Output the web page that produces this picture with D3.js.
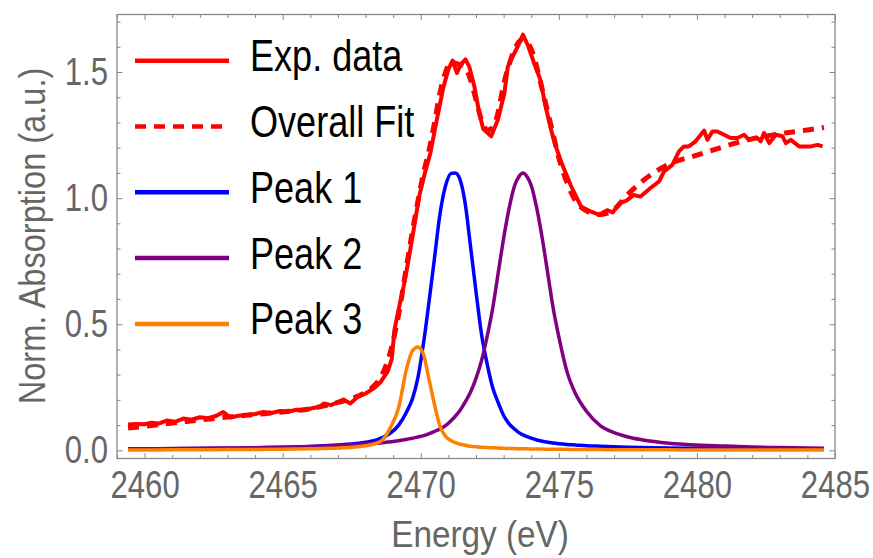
<!DOCTYPE html>
<html>
<head>
<meta charset="utf-8">
<script src="https://cdn.jsdelivr.net/npm/d3@7"></script>
<style>
body { margin: 0; background: #fff; }
.tick line { stroke: #888; stroke-width: 1; }
.tick text { fill: #666; }
</style>
</head>
<body>
<div class="chart-container"></div>
<script>
// Experimental spectrum
var expEnergy = [
  2459.4, 2459.7, 2460.0, 2460.25, 2460.5, 2460.8, 2461.1, 2461.4, 2461.7, 2462.0,
  2462.3, 2462.6, 2462.85, 2463.1, 2463.4, 2463.7, 2464.0, 2464.3, 2464.6, 2464.9,
  2465.2, 2465.5, 2465.8, 2466.1, 2466.35, 2466.5, 2466.75, 2467.0, 2467.2, 2467.45,
  2467.75, 2468.0, 2468.3, 2468.55, 2468.8, 2468.95, 2469.05, 2469.2, 2469.38, 2469.55,
  2469.75, 2469.95, 2470.15, 2470.35, 2470.58, 2470.82, 2471.0, 2471.15, 2471.31, 2471.45,
  2471.62, 2471.76, 2471.94, 2472.12, 2472.26, 2472.55, 2472.79, 2473.03, 2473.15, 2473.39,
  2473.55, 2473.7, 2473.9, 2474.1, 2474.33, 2474.52, 2474.7, 2474.85, 2475.1, 2475.45,
  2475.8, 2476.15, 2476.45, 2476.75, 2476.95, 2477.2, 2477.45, 2477.7, 2477.96, 2478.32,
  2478.63, 2478.81, 2479.11, 2479.35, 2479.53, 2479.71, 2479.95, 2480.14, 2480.26, 2480.38,
  2480.56, 2480.74, 2481.0, 2481.22, 2481.47, 2481.71, 2481.89, 2482.05, 2482.19, 2482.31,
  2482.43, 2482.62, 2482.86, 2483.1, 2483.22, 2483.4, 2483.7, 2484.13, 2484.37, 2484.55
];
var expAbs = [
  0.102, 0.104, 0.103, 0.109, 0.106, 0.118, 0.113, 0.126, 0.121, 0.131,
  0.127, 0.137, 0.152, 0.130, 0.137, 0.140, 0.144, 0.152, 0.148, 0.156,
  0.153, 0.161, 0.159, 0.168, 0.173, 0.186, 0.179, 0.191, 0.201, 0.186,
  0.215, 0.225, 0.246, 0.271, 0.312, 0.362, 0.480, 0.560, 0.650, 0.750,
  0.880, 1.010, 1.100, 1.180, 1.310, 1.440, 1.510, 1.545, 1.496, 1.530,
  1.550, 1.520, 1.443, 1.337, 1.275, 1.245, 1.310, 1.417, 1.520, 1.575,
  1.610, 1.648, 1.600, 1.536, 1.470, 1.363, 1.280, 1.218, 1.139, 1.046,
  0.967, 0.947, 0.934, 0.952, 0.943, 0.980, 0.990, 1.012, 1.006, 1.040,
  1.066, 1.106, 1.132, 1.185, 1.205, 1.205, 1.225, 1.251, 1.268, 1.231,
  1.264, 1.264, 1.250, 1.238, 1.238, 1.251, 1.231, 1.236, 1.238, 1.225,
  1.258, 1.218, 1.251, 1.245, 1.218, 1.231, 1.205, 1.205, 1.211, 1.205
];

// Fit curves, all on the same energy grid
var fitEnergy = [
  2459.4, 2460, 2461, 2462, 2463, 2464, 2465, 2466, 2467, 2467.5,
  2468, 2468.3, 2468.6, 2468.9, 2469.2, 2469.5, 2469.7, 2469.9, 2470.1, 2470.3,
  2470.5, 2470.7, 2470.9, 2471.1, 2471.25, 2471.4, 2471.6, 2471.8, 2472.0, 2472.2,
  2472.4, 2472.6, 2472.8, 2473.0, 2473.2, 2473.4, 2473.55, 2473.7, 2473.85, 2474.0,
  2474.2, 2474.4, 2474.6, 2474.8, 2475.0, 2475.3, 2475.6, 2476.0, 2476.5, 2477,
  2477.5, 2478, 2479, 2480, 2481, 2482, 2483, 2484, 2484.6
];
var overallFit = [
  0.088, 0.095, 0.108, 0.120, 0.132, 0.142, 0.152, 0.165, 0.190, 0.205,
  0.230, 0.255, 0.300, 0.390, 0.540, 0.740, 0.870, 0.990, 1.100, 1.190,
  1.300, 1.420, 1.500, 1.540, 1.535, 1.530, 1.520, 1.470, 1.390, 1.310,
  1.270, 1.280, 1.340, 1.450, 1.530, 1.590, 1.620, 1.630, 1.620, 1.590,
  1.520, 1.430, 1.340, 1.250, 1.160, 1.060, 0.990, 0.950, 0.935, 0.955,
  1.015, 1.065, 1.135, 1.170, 1.205, 1.235, 1.255, 1.270, 1.280
];
var peak1 = [
  0.005, 0.005, 0.006, 0.007, 0.008, 0.010, 0.012, 0.015, 0.021, 0.025,
  0.032, 0.038, 0.050, 0.068, 0.100, 0.155, 0.205, 0.290, 0.425, 0.590,
  0.765, 0.940, 1.050, 1.098, 1.100, 1.080, 0.985, 0.810, 0.630, 0.460,
  0.345, 0.250, 0.190, 0.138, 0.105, 0.084, 0.070, 0.061, 0.054, 0.048,
  0.041, 0.036, 0.032, 0.029, 0.026, 0.023, 0.021, 0.018, 0.016, 0.014,
  0.012, 0.011, 0.009, 0.008, 0.007, 0.006, 0.005, 0.005, 0.004
];
var peak2 = [
  0.006, 0.006, 0.007, 0.008, 0.009, 0.010, 0.012, 0.015, 0.019, 0.022,
  0.025, 0.027, 0.030, 0.034, 0.038, 0.044, 0.048, 0.053, 0.058, 0.066,
  0.075, 0.085, 0.098, 0.118, 0.135, 0.155, 0.190, 0.230, 0.285, 0.355,
  0.450, 0.560, 0.700, 0.840, 0.960, 1.050, 1.085, 1.100, 1.085, 1.050,
  0.960, 0.840, 0.700, 0.560, 0.450, 0.310, 0.225, 0.155, 0.098, 0.070,
  0.053, 0.042, 0.028, 0.021, 0.017, 0.013, 0.011, 0.009, 0.008
];
var peak3 = [
  0.001, 0.001, 0.002, 0.002, 0.003, 0.003, 0.004, 0.006, 0.009, 0.012,
  0.018, 0.025, 0.040, 0.090, 0.170, 0.330, 0.395, 0.410, 0.380, 0.280,
  0.180, 0.094, 0.055, 0.038, 0.030, 0.025, 0.020, 0.016, 0.014, 0.012,
  0.011, 0.010, 0.009, 0.008, 0.007, 0.007, 0.006, 0.006, 0.006, 0.005,
  0.005, 0.005, 0.004, 0.004, 0.004, 0.004, 0.003, 0.003, 0.003, 0.002,
  0.002, 0.002, 0.002, 0.001, 0.001, 0.001, 0.001, 0.001, 0.001
];

var xTicks = [2460, 2465, 2470, 2475, 2480, 2485];
var xMinorTicks = [2459, 2461, 2462, 2463, 2464, 2466, 2467, 2468, 2469, 2471, 2472, 2473, 2474,
  2476, 2477, 2478, 2479, 2481, 2482, 2483, 2484];
var yTicks = [0, 0.5, 1.0, 1.5];
var yMinorTicks = [0.1, 0.2, 0.3, 0.4, 0.6, 0.7, 0.8, 0.9, 1.1, 1.2, 1.3, 1.4, 1.6, 1.7];
var legendNames = ['Exp. data', 'Overall Fit', 'Peak 1', 'Peak 2', 'Peak 3'];

var width = 873;
var height = 558;
var font = "'Liberation Sans', Arial, sans-serif";
// the original uses a condensed face; squeeze the text horizontally
var narrow = 0.82;

var x = d3.scaleLinear().domain([2459, 2485]).range([117, 835]);
var y = d3.scaleLinear().domain([-0.0325, 1.728]).range([458.5, 14.5]);

var svg = d3.select('.chart-container')
  .append('svg')
  .attr('width', width)
  .attr('height', height);

svg.append('clipPath').attr('id', 'plot-clip')
  .append('rect')
  .attr('x', 117).attr('y', 14.5)
  .attr('width', 718).attr('height', 444);

// Axes: ticks point inward on all four sides
function addAxis(axis, tx, ty) {
  var g = svg.append('g')
    .attr('transform', 'translate(' + tx + ',' + ty + ')')
    .call(axis);
  g.select('.domain').remove();
  g.selectAll('text')
    .style('font-family', font)
    .style('font-size', '38px')
    .attr('transform', 'scale(' + narrow + ',1)');
  return g;
}

addAxis(d3.axisBottom(x).tickValues(xTicks).tickSize(-5.5).tickPadding(12.5).tickFormat(d3.format('d')), 0, 458.5);
addAxis(d3.axisBottom(x).tickValues(xMinorTicks).tickSize(-3.5).tickFormat(''), 0, 458.5);
addAxis(d3.axisTop(x).tickValues(xTicks).tickSize(-5.5).tickFormat(''), 0, 14.5);
addAxis(d3.axisTop(x).tickValues(xMinorTicks).tickSize(-3.5).tickFormat(''), 0, 14.5);
addAxis(d3.axisLeft(y).tickValues(yTicks).tickSize(-5.5).tickPadding(11).tickFormat(d3.format('.1f')), 117, 0);
addAxis(d3.axisLeft(y).tickValues(yMinorTicks).tickSize(-3.5).tickFormat(''), 117, 0);
addAxis(d3.axisRight(y).tickValues(yTicks).tickSize(-5.5).tickFormat(''), 835, 0);
addAxis(d3.axisRight(y).tickValues(yMinorTicks).tickSize(-3.5).tickFormat(''), 835, 0);

// Frame
svg.append('rect')
  .attr('x', 117).attr('y', 14.5)
  .attr('width', 718).attr('height', 444)
  .attr('fill', 'none')
  .attr('stroke', '#888')
  .attr('stroke-width', 1.3);

// Curves
var plot = svg.append('g').attr('clip-path', 'url(#plot-clip)');

var rawLine = d3.line()
  .x(function (d) { return x(d[0]); })
  .y(function (d) { return y(d[1]); });

var smoothLine = d3.line()
  .curve(d3.curveMonotoneX)
  .x(function (d) { return x(d[0]); })
  .y(function (d) { return y(d[1]); });

var series = [
  { name: legendNames[0], path: rawLine(d3.zip(expEnergy, expAbs)), color: '#ff0000', dash: null, w: 4 },
  { name: legendNames[1], path: smoothLine(d3.zip(fitEnergy, overallFit)), color: '#ff0000', dash: '11,8', w: 5 },
  { name: legendNames[2], path: smoothLine(d3.zip(fitEnergy, peak1)), color: '#0000ff', dash: null, w: 3.5 },
  { name: legendNames[3], path: smoothLine(d3.zip(fitEnergy, peak2)), color: '#800080', dash: null, w: 3.5 },
  { name: legendNames[4], path: smoothLine(d3.zip(fitEnergy, peak3)), color: '#ff8000', dash: null, w: 3.5 }
];

series.forEach(function (s) {
  plot.append('path')
    .attr('d', s.path)
    .attr('fill', 'none')
    .attr('stroke', s.color)
    .attr('stroke-width', s.w)
    .attr('stroke-linejoin', 'round')
    .attr('stroke-dasharray', s.dash);
});

// Legend
var legend = svg.append('g');
series.forEach(function (s, i) {
  var ly = 60.7 + i * 65.8;
  legend.append('line')
    .attr('x1', 135).attr('x2', 229)
    .attr('y1', ly).attr('y2', ly)
    .attr('stroke', s.color)
    .attr('stroke-width', 4.5)
    .attr('stroke-dasharray', s.dash);
  legend.append('text')
    .attr('transform', 'translate(250,' + (ly + 10.5) + ') scale(' + narrow + ',1)')
    .style('font-family', font)
    .style('font-size', '44px')
    .attr('fill', '#000')
    .text(s.name);
});

// Axis titles
svg.append('text')
  .attr('transform', 'translate(480,547) scale(0.9,1)')
  .attr('text-anchor', 'middle')
  .style('font-family', font)
  .style('font-size', '37px')
  .attr('fill', '#666')
  .text('Energy (eV)');

svg.append('text')
  .attr('transform', 'translate(45,236) rotate(-90) scale(0.88,1)')
  .attr('text-anchor', 'middle')
  .style('font-family', font)
  .style('font-size', '37px')
  .attr('fill', '#666')
  .text('Norm. Absorption (a.u.)');
</script>
</body>
</html>
